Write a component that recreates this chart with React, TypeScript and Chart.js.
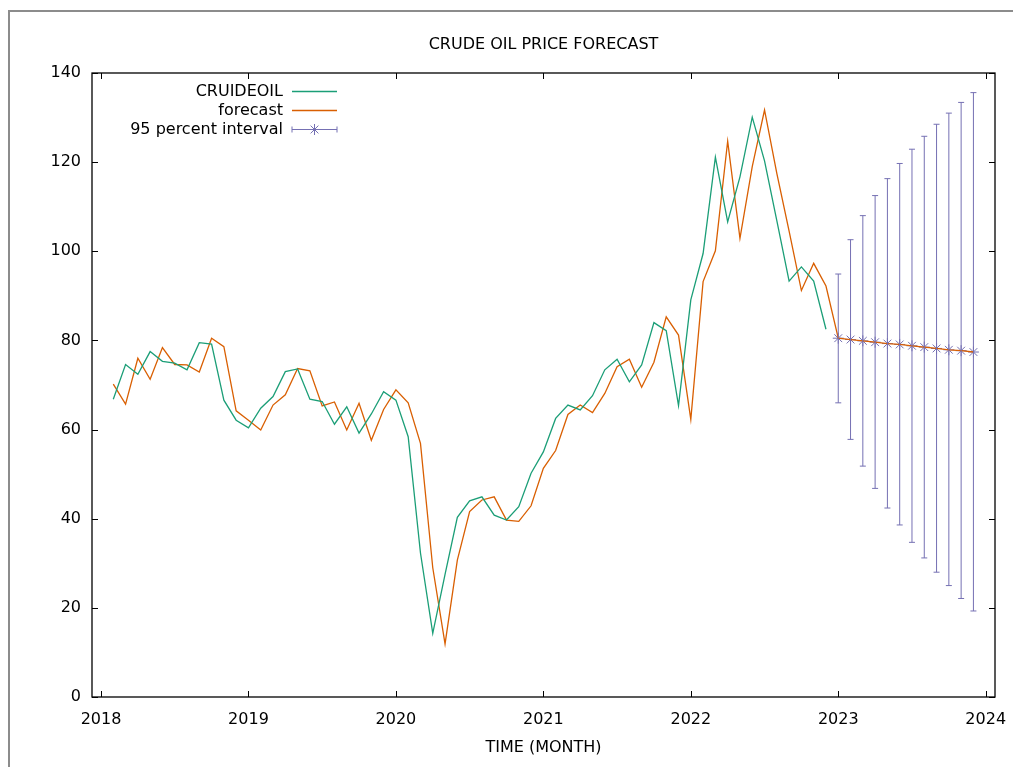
import { useEffect, useRef } from 'react';
import { Chart, registerables } from 'chart.js';

Chart.register(...registerables);

// Monthly periods, Feb 2018 .. Dec 2023
const months = [
  '2018-02', '2018-03', '2018-04', '2018-05', '2018-06', '2018-07', '2018-08', '2018-09', '2018-10', '2018-11', '2018-12',
  '2019-01', '2019-02', '2019-03', '2019-04', '2019-05', '2019-06', '2019-07', '2019-08', '2019-09', '2019-10', '2019-11', '2019-12',
  '2020-01', '2020-02', '2020-03', '2020-04', '2020-05', '2020-06', '2020-07', '2020-08', '2020-09', '2020-10', '2020-11', '2020-12',
  '2021-01', '2021-02', '2021-03', '2021-04', '2021-05', '2021-06', '2021-07', '2021-08', '2021-09', '2021-10', '2021-11', '2021-12',
  '2022-01', '2022-02', '2022-03', '2022-04', '2022-05', '2022-06', '2022-07', '2022-08', '2022-09', '2022-10', '2022-11', '2022-12',
  '2023-01', '2023-02', '2023-03', '2023-04', '2023-05', '2023-06', '2023-07', '2023-08', '2023-09', '2023-10', '2023-11', '2023-12',
];

// Observed crude oil price (Feb 2018 .. Dec 2022)
const crudeOil = [
  66.8, 74.6, 72.4, 77.5, 75.3, 74.9, 73.4, 79.5, 79.2, 66.6, 62.1,
  60.4, 64.8, 67.4, 73.0, 73.6, 66.8, 66.3, 61.2, 65.1, 59.2, 63.5, 68.5,
  66.6, 58.4, 32.3, 14.3, 27.5, 40.3, 44.0, 44.9, 40.8, 39.7, 42.7, 50.2,
  55.0, 62.5, 65.5, 64.4, 67.6, 73.4, 75.8, 70.7, 74.5, 84.0, 82.2, 65.4,
  89.1, 99.5, 121.1, 106.6, 116.7, 130.1, 120.3, 106.9, 93.3, 96.5, 93.3, 82.5,
];

// In-sample fitted values (Feb 2018 .. Dec 2022)
const forecastFit = [
  70.2, 65.7, 76.0, 71.3, 78.4, 74.6, 74.5, 72.9, 80.5, 78.6, 64.2,
  62.1, 59.9, 65.5, 67.8, 73.7, 73.2, 65.3, 66.2, 59.9, 65.9, 57.6, 64.5,
  68.9, 66.0, 56.9, 29.0, 11.9, 30.7, 41.6, 44.2, 44.9, 39.7, 39.4, 42.9,
  51.3, 55.3, 63.4, 65.5, 63.8, 68.1, 74.1, 75.8, 69.5, 75.1, 85.3, 81.2,
  62.3, 93.2, 100.1, 124.7, 102.9, 119.0, 131.7, 117.5, 104.5, 91.2, 97.3, 92.2,
];

// Out-of-sample forecast with 95% interval (Jan 2023 .. Dec 2023)
const forecastAhead = [80.5, 80.2, 79.9, 79.6, 79.3, 79.1, 78.8, 78.5, 78.2, 77.9, 77.7, 77.4];
const intervalLow = [66.0, 57.8, 51.8, 46.8, 42.4, 38.6, 34.7, 31.2, 28.0, 25.0, 22.1, 19.3];
const intervalHigh = [94.9, 102.6, 108.0, 112.5, 116.3, 119.7, 122.9, 125.8, 128.5, 131.0, 133.4, 135.6];

const xTickYears = [2018, 2019, 2020, 2021, 2022, 2023, 2024];
const yTicks = [0, 20, 40, 60, 80, 100, 120, 140];

const GREEN = '#1B9E77';
const ORANGE = '#D95F02';
const PURPLE = '#7570B3';
const FONT_FAMILY = '"DejaVu Sans", Verdana, sans-serif';
const FONT_SIZE = 16;

const toYear = (label: string) => {
  const [y, m] = label.split('-').map(Number);
  return y + (m - 1) / 12;
};

const forecastAll = [...forecastFit, ...forecastAhead];
const aheadMonths = months.slice(forecastFit.length);

function drawStar(ctx: CanvasRenderingContext2D, x: number, y: number, r: number) {
  const d = r * Math.SQRT1_2;
  ctx.beginPath();
  ctx.moveTo(x - r, y);
  ctx.lineTo(x + r, y);
  ctx.moveTo(x, y - r);
  ctx.lineTo(x, y + r);
  ctx.moveTo(x - d, y - d);
  ctx.lineTo(x + d, y + d);
  ctx.moveTo(x - d, y + d);
  ctx.lineTo(x + d, y - d);
  ctx.stroke();
}

const decorations = {
  id: 'gnuplotDecorations',
  beforeDraw(chart: any) {
    const ctx = chart.ctx as CanvasRenderingContext2D;
    ctx.save();
    ctx.fillStyle = '#ffffff';
    ctx.fillRect(0, 0, chart.width, chart.height);
    // window frame
    ctx.strokeStyle = '#8c8c8c';
    ctx.lineWidth = 2;
    ctx.beginPath();
    ctx.moveTo(9, chart.height);
    ctx.lineTo(9, 11);
    ctx.lineTo(chart.width, 11);
    ctx.stroke();
    ctx.restore();
  },
  afterDatasetsDraw(chart: any) {
    const ctx = chart.ctx as CanvasRenderingContext2D;
    const { left, right, top, bottom } = chart.chartArea;
    const xs = chart.scales.x;
    const ys = chart.scales.y;
    ctx.save();

    // error bars of the forecast interval
    ctx.strokeStyle = PURPLE;
    ctx.lineWidth = 1;
    aheadMonths.forEach((m, i) => {
      const px = xs.getPixelForValue(toYear(m));
      const pLo = ys.getPixelForValue(intervalLow[i]);
      const pHi = ys.getPixelForValue(intervalHigh[i]);
      ctx.beginPath();
      ctx.moveTo(px, pLo);
      ctx.lineTo(px, pHi);
      ctx.moveTo(px - 3, pLo);
      ctx.lineTo(px + 3, pLo);
      ctx.moveTo(px - 3, pHi);
      ctx.lineTo(px + 3, pHi);
      ctx.stroke();
    });

    // plot border
    ctx.strokeStyle = '#000000';
    ctx.lineWidth = 1.3;
    ctx.strokeRect(left, top, right - left, bottom - top);

    // inward tick marks, mirrored on opposite sides
    ctx.lineWidth = 1;
    ctx.beginPath();
    xTickYears.forEach((v) => {
      const px = Math.round(xs.getPixelForValue(v)) + 0.5;
      ctx.moveTo(px, bottom);
      ctx.lineTo(px, bottom - 6);
      ctx.moveTo(px, top);
      ctx.lineTo(px, top + 6);
    });
    yTicks.forEach((v) => {
      const py = Math.round(ys.getPixelForValue(v)) + 0.5;
      ctx.moveTo(left, py);
      ctx.lineTo(left + 6, py);
      ctx.moveTo(right, py);
      ctx.lineTo(right - 6, py);
    });
    ctx.stroke();

    // titles
    const cx = (left + right) / 2;
    ctx.fillStyle = '#000000';
    ctx.font = `${FONT_SIZE}px ${FONT_FAMILY}`;
    ctx.textAlign = 'center';
    ctx.textBaseline = 'middle';
    ctx.fillText('CRUDE OIL PRICE FORECAST', cx, 45);
    ctx.fillText('TIME (MONTH)', cx, 748);

    // key
    const rows = [
      { label: 'CRUIDEOIL', color: GREEN, kind: 'line' },
      { label: 'forecast', color: ORANGE, kind: 'line' },
      { label: '95 percent interval', color: PURPLE, kind: 'bars' },
    ];
    const textRight = 283;
    const sx0 = 292;
    const sx1 = 337;
    rows.forEach((r, i) => {
      const y = 91.5 + i * 19;
      ctx.fillStyle = '#000000';
      ctx.textAlign = 'right';
      ctx.fillText(r.label, textRight, y);
      ctx.strokeStyle = r.color;
      ctx.lineWidth = r.kind === 'line' ? 1.3 : 1;
      ctx.beginPath();
      ctx.moveTo(sx0, y);
      ctx.lineTo(sx1, y);
      if (r.kind === 'bars') {
        ctx.moveTo(sx0, y - 3);
        ctx.lineTo(sx0, y + 3);
        ctx.moveTo(sx1, y - 3);
        ctx.lineTo(sx1, y + 3);
      }
      ctx.stroke();
      if (r.kind === 'bars') drawStar(ctx, (sx0 + sx1) / 2, y, 5.5);
    });

    ctx.restore();
  },
};

export default function App() {
  const canvasRef = useRef<HTMLCanvasElement | null>(null);

  useEffect(() => {
    const canvas = canvasRef.current;
    if (!canvas) return;
    const font = { family: FONT_FAMILY, size: FONT_SIZE };
    const chart = new Chart(canvas, {
      type: 'line',
      data: {
        datasets: [
          {
            label: 'CRUIDEOIL',
            data: crudeOil.map((v, i) => ({ x: toYear(months[i]), y: v })),
            borderColor: GREEN,
            borderWidth: 1.3,
            pointRadius: 0,
            tension: 0,
          },
          {
            label: 'forecast',
            data: forecastAll.map((v, i) => ({ x: toYear(months[i]), y: v })),
            borderColor: ORANGE,
            borderWidth: 1.3,
            pointRadius: 0,
            tension: 0,
          },
          {
            label: '95 percent interval',
            data: forecastAhead.map((v, i) => ({ x: toYear(aheadMonths[i]), y: v })),
            showLine: false,
            borderColor: PURPLE,
            backgroundColor: PURPLE,
            pointStyle: 'star',
            pointRadius: 5.5,
            pointBorderWidth: 1,
          },
        ],
      },
      options: {
        animation: false,
        responsive: false,
        devicePixelRatio: 1,
        layout: { padding: { top: 73, right: 18, bottom: 0, left: 0 } },
        scales: {
          x: {
            type: 'linear',
            min: 2017.939,
            max: 2024.063,
            afterFit: (s: any) => {
              s.height = 70;
              s.paddingLeft = 0;
              s.paddingRight = 0;
            },
            afterBuildTicks: (s: any) => {
              s.ticks = xTickYears.map((v) => ({ value: v }));
            },
            grid: { display: false, drawTicks: false },
            border: { display: false },
            ticks: {
              font,
              color: '#000000',
              padding: 13,
              maxRotation: 0,
              autoSkip: false,
              callback: (v: any) => String(v),
            },
          },
          y: {
            min: 0,
            max: 140,
            afterFit: (s: any) => {
              s.width = 92;
              s.paddingTop = 0;
              s.paddingBottom = 0;
            },
            afterBuildTicks: (s: any) => {
              s.ticks = yTicks.map((v) => ({ value: v }));
            },
            grid: { display: false, drawTicks: false },
            border: { display: false },
            ticks: {
              font,
              color: '#000000',
              padding: 11,
              callback: (v: any) => String(v),
            },
          },
        },
        plugins: {
          legend: { display: false },
          tooltip: { enabled: false },
          title: { display: false },
        },
      },
      plugins: [decorations],
    });
    return () => chart.destroy();
  }, []);

  return (
    <div style={{ position: 'absolute', left: 0, top: 0, width: 1013, height: 767, overflow: 'hidden' }}>
      <canvas ref={canvasRef} width={1013} height={767} style={{ display: 'block' }} />
    </div>
  );
}
